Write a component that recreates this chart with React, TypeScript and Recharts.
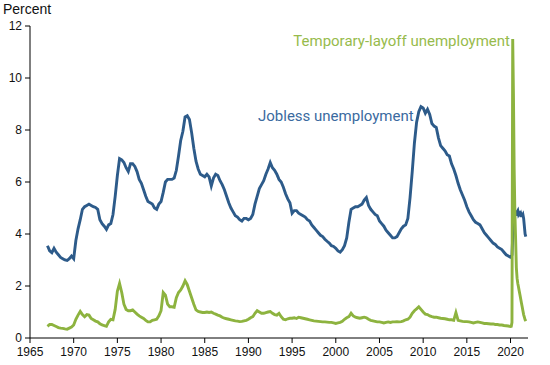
import React from 'react';
import { LineChart, Line, XAxis, YAxis } from 'recharts';

// quarterly readings, 1967 Q1 - 2019 Q4 (percent of labor force)
const joblessQ = [
  3.55, 3.35, 3.28, 3.45, 3.3, 3.2, 3.1, 3.05, 3.0, 2.98, 3.05, 3.15,
  3.05, 3.75, 4.2, 4.55, 4.95, 5.05, 5.1, 5.15, 5.1, 5.05, 5.02, 4.95,
  4.55, 4.4, 4.3, 4.18, 4.35, 4.4, 4.75, 5.45, 6.25, 6.9, 6.85, 6.75,
  6.55, 6.4, 6.7, 6.7, 6.6, 6.4, 6.1, 5.95, 5.7, 5.45, 5.25, 5.2,
  5.15, 5.0, 4.95, 5.15, 5.25, 5.6, 6.0, 6.1, 6.1, 6.1, 6.15, 6.45,
  7.0, 7.6, 7.95, 8.5, 8.55, 8.4, 7.9, 7.3, 6.8, 6.5, 6.3, 6.25,
  6.2, 6.3, 6.2, 5.85, 6.15, 6.3, 6.25, 6.05, 5.9, 5.7, 5.45, 5.2,
  5.0, 4.85, 4.7, 4.65, 4.55, 4.5, 4.6, 4.6, 4.55, 4.6, 4.75, 5.15,
  5.45, 5.75, 5.9, 6.05, 6.3, 6.5, 6.75, 6.55, 6.45, 6.3, 6.1, 6.0,
  5.8, 5.55, 5.35, 5.2, 4.8, 4.9, 4.9, 4.8, 4.75, 4.7, 4.65, 4.55,
  4.5, 4.35, 4.25, 4.15, 4.05, 3.95, 3.9, 3.8, 3.72, 3.65, 3.55, 3.52,
  3.45, 3.35, 3.3, 3.4, 3.55, 3.85, 4.45, 4.95, 5.0, 5.05, 5.05, 5.1,
  5.15, 5.3, 5.4, 5.1, 4.95, 4.85, 4.75, 4.7, 4.5, 4.4, 4.3, 4.15,
  4.05, 3.95, 3.85, 3.85, 3.9, 4.05, 4.2, 4.3, 4.35, 4.6, 5.4, 6.4,
  7.5, 8.3, 8.7, 8.9, 8.85, 8.65, 8.8, 8.6, 8.25, 8.15, 8.1, 7.7,
  7.4, 7.3, 7.2, 7.05, 7.0, 6.7, 6.5, 6.25, 5.95, 5.7, 5.5, 5.3,
  5.05, 4.85, 4.7, 4.55, 4.45, 4.4, 4.35, 4.2, 4.05, 3.95, 3.85, 3.75,
  3.65, 3.6, 3.5, 3.45, 3.4, 3.3, 3.2, 3.15,
];

const layoffQ = [
  0.45, 0.52, 0.52, 0.48, 0.44, 0.4, 0.38, 0.37, 0.35, 0.34, 0.38, 0.42,
  0.5, 0.72, 0.88, 1.02, 0.9, 0.82, 0.9, 0.88, 0.75, 0.7, 0.65, 0.62,
  0.55, 0.5, 0.48, 0.45, 0.62, 0.72, 0.7, 1.1, 1.8, 2.1, 1.75, 1.3,
  1.1, 1.05, 1.05, 1.08, 1.0, 0.92, 0.85, 0.8, 0.75, 0.68, 0.62, 0.62,
  0.68, 0.7, 0.72, 0.85, 1.05, 1.75, 1.65, 1.3, 1.2, 1.2, 1.18, 1.55,
  1.75, 1.85, 2.0, 2.2, 2.05, 1.8, 1.55, 1.3, 1.08, 1.02, 1.0, 0.98,
  0.98, 1.0, 0.98, 1.0, 0.95, 0.92, 0.88, 0.85, 0.8, 0.76, 0.74, 0.72,
  0.7, 0.68, 0.66, 0.65, 0.63, 0.64, 0.66, 0.68, 0.72, 0.78, 0.82, 0.95,
  1.05, 1.0, 0.95, 0.95, 0.98, 1.0, 1.02, 0.95, 0.9, 0.88, 0.95, 0.82,
  0.72, 0.7, 0.74, 0.76, 0.76, 0.78, 0.75, 0.8, 0.78, 0.76, 0.74, 0.72,
  0.7, 0.68, 0.66, 0.65, 0.64, 0.63, 0.62, 0.62, 0.61, 0.6, 0.6, 0.58,
  0.56, 0.58, 0.6, 0.64, 0.72, 0.78, 0.82, 0.95, 0.85, 0.8, 0.78, 0.76,
  0.78, 0.8, 0.78, 0.72, 0.68, 0.66, 0.64, 0.62, 0.62, 0.6, 0.58, 0.6,
  0.62, 0.6, 0.62, 0.62, 0.63, 0.62, 0.63, 0.66, 0.7, 0.72, 0.8, 0.95,
  1.05, 1.12, 1.2, 1.1, 1.0, 0.92, 0.9, 0.85, 0.82, 0.8, 0.8, 0.78,
  0.76, 0.75, 0.74, 0.72, 0.7, 0.7, 0.68, 0.98, 0.68, 0.66, 0.64, 0.63,
  0.63, 0.62, 0.6, 0.58, 0.6, 0.62, 0.6, 0.58, 0.56, 0.56, 0.55, 0.54,
  0.54, 0.52, 0.52, 0.5, 0.5, 0.48, 0.47, 0.46,
];

// monthly readings, Jan 2020 - Oct 2021
const joblessM = [
  3.1, 3.1, 3.2, 3.9, 4.4, 4.7, 4.8, 4.9, 4.7, 4.85, 4.9, 4.75,
  4.8, 4.75, 4.8, 4.7, 4.7, 4.75, 4.6, 4.3, 4.0, 3.9,
];
const layoffM = [
  0.44, 0.45, 0.6, 11.5, 9.4, 6.5, 4.8, 3.8, 2.7, 2.3, 2.1, 1.95,
  1.8, 1.65, 1.5, 1.35, 1.2, 1.05, 0.9, 0.8, 0.7, 0.65,
];

const yearTicks = [1965, 1970, 1975, 1980, 1985, 1990, 1995, 2000, 2005, 2010, 2015, 2020];
const pctTicks = [0, 2, 4, 6, 8, 10, 12];

const data = [
  ...joblessQ.map((v, i) => ({ t: 1967 + i / 4, jobless: v, layoff: layoffQ[i] })),
  ...joblessM.map((v, i) => ({ t: 2020 + i / 12, jobless: v, layoff: layoffM[i] })),
];

const BLUE = '#2d5b8a';
const GREEN = '#8db33f';
const tickStyle = { fontSize: 12, fill: '#111', fontFamily: '"Liberation Sans", Arial, sans-serif' };

export default function App() {
  return (
    <div style={{ position: 'absolute', left: 0, top: 0, width: 550, height: 365, background: '#fff' }}>
      <LineChart
        width={550}
        height={365}
        data={data}
        margin={{ top: 26, right: 22, left: 0, bottom: 0 }}
      >
        <XAxis
          dataKey="t"
          type="number"
          domain={[1965, 2022]}
          ticks={yearTicks}
          height={27}
          tick={tickStyle}
          tickSize={5}
          tickMargin={4}
          stroke="#000"
        />
        <YAxis
          type="number"
          domain={[0, 12]}
          ticks={pctTicks}
          width={30}
          tick={tickStyle}
          tickSize={5}
          tickMargin={3}
          stroke="#000"
        />
        <Line
          type="linear"
          dataKey="jobless"
          stroke={BLUE}
          strokeWidth={2.9}
          dot={false}
          isAnimationActive={false}
        />
        <Line
          type="linear"
          dataKey="layoff"
          stroke={GREEN}
          strokeWidth={2.9}
          dot={false}
          isAnimationActive={false}
        />
      </LineChart>
      <div style={{ position: 'absolute', left: 3, top: 1, fontSize: 14, color: '#111', fontFamily: '"Liberation Sans", Arial, sans-serif' }}>
        Percent
      </div>
      <div style={{ position: 'absolute', left: 258, top: 107, fontSize: 15, color: '#3a6aa0', fontFamily: 'Roboto, sans-serif', whiteSpace: 'nowrap' }}>
        Jobless unemployment
      </div>
      <div style={{ position: 'absolute', right: 40, top: 32, fontSize: 15, color: '#97bb4c', fontFamily: 'Roboto, sans-serif', whiteSpace: 'nowrap' }}>
        Temporary-layoff unemployment
      </div>
    </div>
  );
}
